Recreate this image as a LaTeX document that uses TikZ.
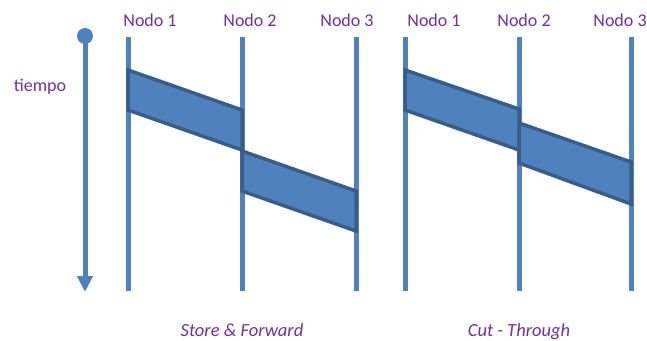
\documentclass[tikz,border=0pt]{standalone}
\usepackage{fontspec}
\setmainfont{Carlito}
\usetikzlibrary{arrows.meta}
\definecolor{lineblue}{HTML}{4F81BD}
\definecolor{edgeblue}{HTML}{385D8A}
\definecolor{labelpurple}{HTML}{7030A0}
\tikzset{
  lane/.style={line width=5pt, lineblue},
  packet/.style={fill=lineblue, draw=edgeblue, line width=3.5pt, line join=miter},
  nodelabel/.style={text=labelpurple, font=\fontsize{18}{20}\selectfont, anchor=base, inner sep=0pt},
  caption/.style={text=labelpurple, font=\fontsize{18.5}{20}\selectfont\itshape, anchor=base, inner sep=0pt},
}
\begin{document}
\begin{tikzpicture}[x=1pt,y=-1pt]
\useasboundingbox (0,0) rectangle (647,340);

% time axis
\coordinate (t0) at (85,36);
\coordinate (t1) at (85,292);
\draw[lane, -{Triangle[length=16pt,width=15pt]}] (t0) -- (t1);
\fill[lineblue] (t0) circle (8);
\node[nodelabel] (tiempo) at (40,91) {tiempo};

% node lanes
\foreach \name/\x in {sa/128, sb/242, sc/356, ca/405, cb/519, cc/631} {
  \coordinate (\name top) at (\x,37);
  \coordinate (\name bot) at (\x,291);
  \draw[lane] (\name top) -- (\name bot);
}

% lane headings
\node[nodelabel] (sa lbl) at (150,27) {Nodo 1};
\node[nodelabel] (sb lbl) at (250,27) {Nodo 2};
\node[nodelabel] (sc lbl) at (347,27) {Nodo 3};
\node[nodelabel] (ca lbl) at (434,27) {Nodo 1};
\node[nodelabel] (cb lbl) at (524,27) {Nodo 2};
\node[nodelabel] (cc lbl) at (620,27) {Nodo 3};

% store & forward: frame fully received before it is sent on
\draw[packet] (128,70) -- (242,110) -- (242,150) -- (128,110) -- cycle;
\draw[packet] (242,151) -- (356,191) -- (356,231) -- (242,191) -- cycle;

% cut-through: forwarding starts right after the header
\draw[packet] (405,70) -- (519,109) -- (519,150) -- (405,110) -- cycle;
\draw[packet] (519,123) -- (631,162) -- (631,204) -- (519,163) -- cycle;

% captions
\node[caption] (sf) at (242,336) {Store \& Forward};
\node[caption] (ct) at (519,336) {Cut - Through};
\end{tikzpicture}
\end{document}
